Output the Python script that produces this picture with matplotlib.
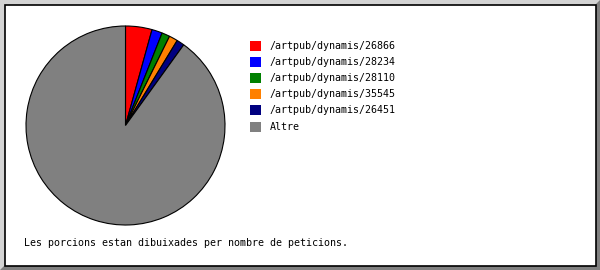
import matplotlib
matplotlib.use("Agg")
import matplotlib.pyplot as plt
from matplotlib.patches import Polygon, Rectangle

# Request share per path (percent)
labels = ["/artpub/dynamis/26866", "/artpub/dynamis/28234", "/artpub/dynamis/28110",
          "/artpub/dynamis/35545", "/artpub/dynamis/26451", "Altre"]
values = [4.3, 1.7, 1.3, 1.4, 1.25, 90.05]
colors = ["#ff0000", "#0000ff", "#008000", "#ff8000", "#000080", "#808080"]
note = "Les porcions estan dibuixades per nombre de peticions."

W, H = 600, 270
fig = plt.figure(figsize=(W / 100, H / 100), dpi=100)

# Bevelled frame drawn in pixel coordinates
bg = fig.add_axes([0, 0, 1, 1])
bg.set_xlim(0, W)
bg.set_ylim(H, 0)
bg.axis("off")
bg.add_patch(Rectangle((0, 0), W, H, facecolor="#808080", edgecolor="none"))
bg.add_patch(Polygon([(0, 0), (W, 0), (W - 5, 5), (5, 5), (5, H - 5), (0, H)],
                     closed=True, facecolor="#d4d4d4", edgecolor="none"))
bg.add_patch(Rectangle((4.5, 4.5), W - 9, H - 9, facecolor="white",
                       edgecolor="black", linewidth=1.2))

# Legend
font = dict(family="DejaVu Sans Mono", fontsize=7.2, color="black")
for i, (lab, col) in enumerate(zip(labels, colors)):
    yc = 46 + i * 16.1
    bg.add_patch(Rectangle((250, yc - 5), 11, 10, facecolor=col, edgecolor="none"))
    bg.text(270, yc, lab, va="center", ha="left", **font)

bg.text(24, 243, note, va="center", ha="left", **font)

# Pie
ax = fig.add_axes([25 / W, 44 / H, 201 / W, 201 / H])
ax.pie(values, colors=colors, startangle=90, counterclock=False, radius=1,
       wedgeprops=dict(edgecolor="black", linewidth=0.8))
ax.set_xlim(-1.01, 1.01)
ax.set_ylim(-1.01, 1.01)
ax.axis("off")

fig.savefig("out.png", dpi=100)
